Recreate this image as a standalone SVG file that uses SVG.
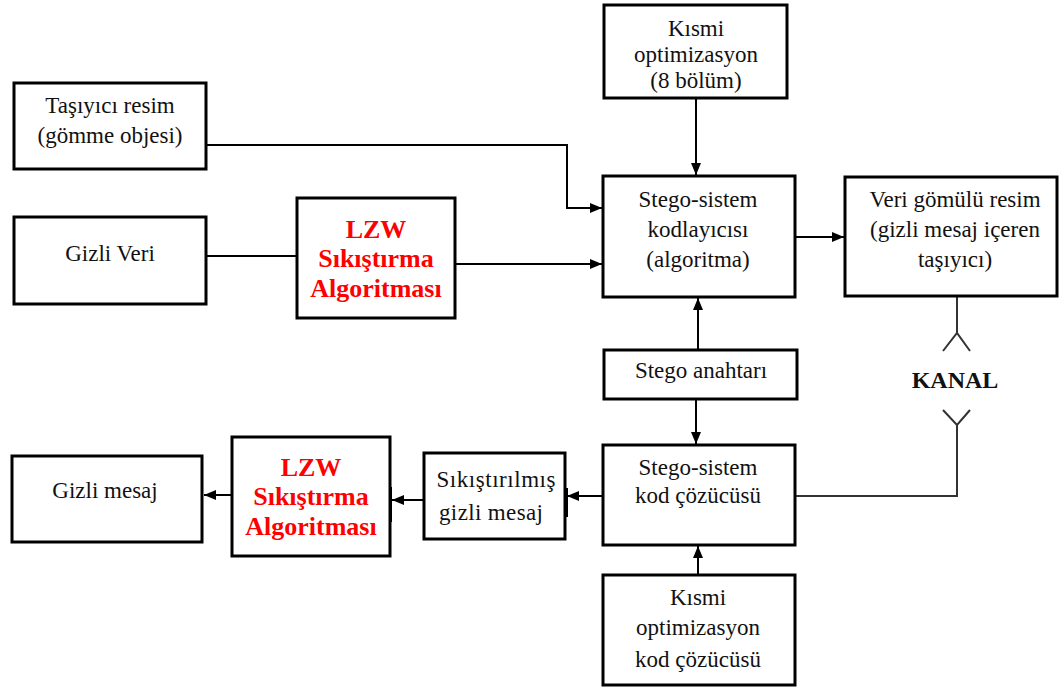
<svg xmlns="http://www.w3.org/2000/svg" width="1059" height="688" viewBox="0 0 1059 688">
<defs>
<style>
.box{fill:#fff;stroke:#000;stroke-width:3}
.t{font-family:'Liberation Serif',serif;font-size:23px;fill:#111;text-anchor:middle}
.r{font-family:'Liberation Serif',serif;font-size:26px;font-weight:bold;fill:#ff0000;text-anchor:middle}
.k{font-family:'Liberation Serif',serif;font-size:24px;font-weight:bold;fill:#111;text-anchor:middle}
.c{fill:none;stroke:#000;stroke-width:2}
.a{fill:none;stroke:#333;stroke-width:2}
</style>
<marker id="arr" viewBox="0 0 12 10" refX="12" refY="5" markerWidth="12" markerHeight="10" markerUnits="userSpaceOnUse" orient="auto">
<path d="M0,0 L12,5 L0,10 Z" fill="#000"/>
</marker>
</defs>

<g id="connectors">
<path class="c" d="M206,145 H567 V208 H602" marker-end="url(#arr)"/>
<path class="c" d="M206,256 H297"/>
<path class="c" d="M455,264 H602" marker-end="url(#arr)"/>
<path class="c" d="M696,98 V175" marker-end="url(#arr)"/>
<path class="c" d="M795,237 H844" marker-end="url(#arr)"/>
<path class="c" d="M698,350 V298" marker-end="url(#arr)"/>
<path class="c" d="M696,399 V444" marker-end="url(#arr)"/>
<path class="a" d="M957,296 V333 M943,351 L957,333 L970,351"/>
<path class="a" d="M943,410 L957,425 L970,410 M957,425 V496 H795"/>
<path class="c" d="M698,575 V546" marker-end="url(#arr)"/>
<path class="c" d="M603,496 H567" marker-end="url(#arr)"/>
<path class="c" d="M424,500 H392" marker-end="url(#arr)"/>
<path class="c" d="M232,495 H204" marker-end="url(#arr)"/>
<rect x="564" y="488" width="4" height="29" fill="#000"/>
<rect x="388" y="487" width="4" height="35" fill="#000"/>
</g>

<g id="tasiyici">
<rect class="box" x="14" y="83" width="192" height="86"/>
<text class="t" x="110" y="113">Taşıyıcı resim</text>
<text class="t" x="110" y="143">(gömme objesi)</text>
</g>

<g id="gizli-veri">
<rect class="box" x="14" y="217" width="192" height="87"/>
<text class="t" x="110" y="261">Gizli Veri</text>
</g>

<g id="lzw-top">
<rect class="box" x="297" y="198" width="158" height="120"/>
<text class="r" x="376" y="238">LZW</text>
<text class="r" x="376" y="267">Sıkıştırma</text>
<text class="r" x="376" y="297">Algoritması</text>
</g>

<g id="kismi-top">
<rect class="box" x="604" y="5" width="183" height="93"/>
<text class="t" x="696" y="36">Kısmi</text>
<text class="t" x="696" y="62">optimizasyon</text>
<text class="t" x="696" y="88">(8 bölüm)</text>
</g>

<g id="stego-kodlayici">
<rect class="box" x="603" y="176" width="192" height="121"/>
<text class="t" x="698" y="207">Stego-sistem</text>
<text class="t" x="698" y="237">kodlayıcısı</text>
<text class="t" x="698" y="267">(algoritma)</text>
</g>

<g id="veri-gomulu">
<rect class="box" x="845" y="177" width="212" height="119"/>
<text class="t" x="955" y="207">Veri gömülü resim</text>
<text class="t" x="955" y="237">(gizli mesaj içeren</text>
<text class="t" x="955" y="267">taşıyıcı)</text>
</g>

<g id="stego-anahtari">
<rect class="box" x="604" y="350" width="193" height="49"/>
<text class="t" x="701" y="378">Stego anahtarı</text>
</g>

<g id="kanal">
<text class="k" x="955" y="388">KANAL</text>
</g>

<g id="stego-cozucu">
<rect class="box" x="603" y="445" width="192" height="100"/>
<text class="t" x="698" y="475">Stego-sistem</text>
<text class="t" x="698" y="503">kod çözücüsü</text>
</g>

<g id="kismi-bottom">
<rect class="box" x="603" y="575" width="192" height="110"/>
<text class="t" x="698" y="605">Kısmi</text>
<text class="t" x="698" y="635">optimizasyon</text>
<text class="t" x="698" y="667">kod çözücüsü</text>
</g>

<g id="sikistirilmis">
<rect class="box" x="424" y="453" width="141" height="86"/>
<text class="t" x="496" y="487" textLength="119" lengthAdjust="spacing">Sıkıştırılmış</text>
<text class="t" x="491" y="520" textLength="104" lengthAdjust="spacing">gizli mesaj</text>
</g>

<g id="lzw-bottom">
<rect class="box" x="232" y="437" width="158" height="119"/>
<text class="r" x="311" y="476">LZW</text>
<text class="r" x="311" y="505">Sıkıştırma</text>
<text class="r" x="311" y="535">Algoritması</text>
</g>

<g id="gizli-mesaj">
<rect class="box" x="12" y="456" width="190" height="86"/>
<text class="t" x="105" y="498">Gizli mesaj</text>
</g>
</svg>
